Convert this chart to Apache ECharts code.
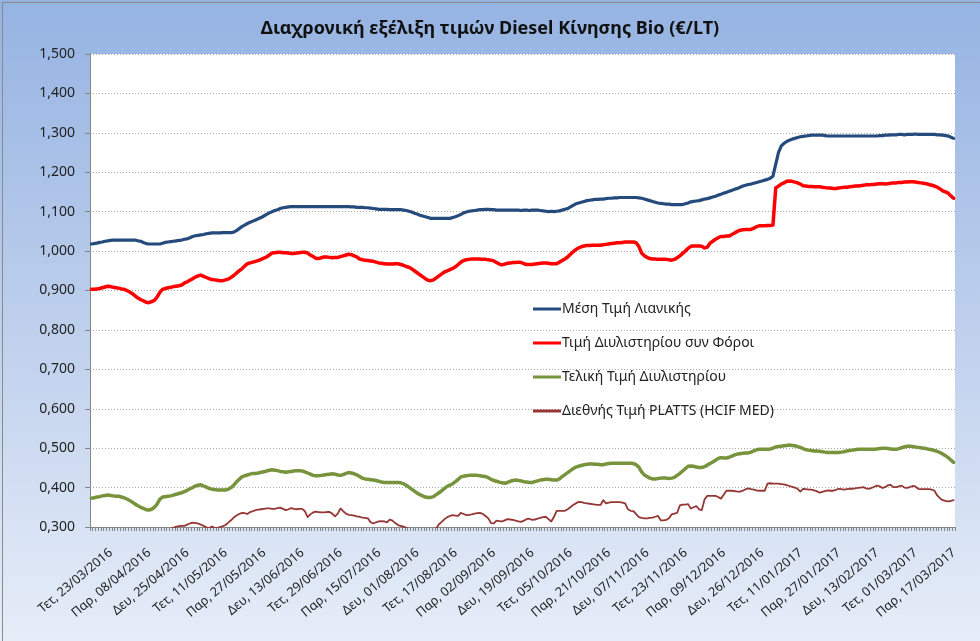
<!DOCTYPE html>
<html>
<head>
<meta charset="utf-8">
<script src="https://cdn.jsdelivr.net/npm/echarts@6/dist/echarts.min.js"></script>
<style>
html,body{margin:0;padding:0;background:#fff;}
#chart{width:980px;height:641px;}
</style>
</head>
<body>
<div id="chart"></div>
<script>
// ---- data ----
const titleText = 'Διαχρονική εξέλιξη τιμών Diesel Κίνησης Bio (€/LT)';
const seriesNames = ['Μέση Τιμή Λιανικής', 'Τιμή Διυλιστηρίου συν Φόροι', 'Τελική Τιμή Διυλιστηρίου', 'Διεθνής Τιμή PLATTS (HCIF MED)'];
const dayNames = ['Κυρ', 'Δευ', 'Τρι', 'Τετ', 'Πεμ', 'Παρ', 'Σαβ'];
const startDate = [2016, 3, 23]; // first trading day (Mon-Sat series)
const pointCount = 316;

const retail = [
1.018,1.019,1.020,1.022,1.023,1.025,1.026,1.027,1.028,1.028,1.028,1.028,1.028,1.028,
1.028,1.028,1.028,1.026,1.025,1.022,1.019,1.018,1.018,1.018,1.018,1.018,1.020,1.022,
1.023,1.024,1.025,1.026,1.027,1.028,1.030,1.031,1.034,1.037,1.039,1.040,1.041,1.042,
1.044,1.045,1.046,1.046,1.046,1.046,1.047,1.047,1.047,1.047,1.048,1.052,1.057,1.062,
1.066,1.070,1.073,1.076,1.079,1.082,1.085,1.089,1.093,1.097,1.100,1.103,1.105,1.108,
1.110,1.111,1.112,1.113,1.113,1.113,1.113,1.113,1.113,1.113,1.113,1.113,1.113,1.113,
1.113,1.113,1.113,1.113,1.113,1.113,1.113,1.113,1.113,1.113,1.113,1.112,1.112,1.111,
1.111,1.111,1.110,1.110,1.109,1.108,1.107,1.106,1.106,1.106,1.106,1.105,1.105,1.105,
1.105,1.105,1.104,1.103,1.101,1.099,1.096,1.094,1.091,1.089,1.087,1.085,1.083,1.083,
1.083,1.083,1.083,1.083,1.083,1.083,1.085,1.087,1.090,1.093,1.097,1.099,1.101,1.102,
1.103,1.104,1.105,1.105,1.106,1.106,1.105,1.105,1.104,1.104,1.104,1.104,1.104,1.104,
1.104,1.104,1.104,1.103,1.104,1.104,1.103,1.104,1.104,1.104,1.103,1.102,1.101,1.100,
1.101,1.100,1.101,1.102,1.104,1.106,1.108,1.112,1.116,1.120,1.122,1.124,1.126,1.128,
1.129,1.130,1.131,1.131,1.132,1.132,1.133,1.134,1.134,1.135,1.135,1.136,1.136,1.136,
1.136,1.136,1.136,1.136,1.135,1.134,1.132,1.130,1.128,1.126,1.124,1.122,1.121,1.120,
1.119,1.119,1.118,1.118,1.118,1.118,1.118,1.120,1.122,1.125,1.126,1.127,1.128,1.130,
1.132,1.133,1.135,1.137,1.139,1.142,1.144,1.147,1.149,1.152,1.154,1.157,1.159,1.162,
1.165,1.167,1.169,1.170,1.172,1.174,1.176,1.178,1.180,1.182,1.185,1.190,1.220,1.250,
1.266,1.273,1.278,1.281,1.284,1.286,1.288,1.290,1.291,1.292,1.293,1.294,1.294,1.294,
1.294,1.294,1.293,1.292,1.292,1.292,1.292,1.292,1.292,1.292,1.292,1.292,1.292,1.292,
1.292,1.292,1.292,1.292,1.292,1.292,1.292,1.292,1.293,1.293,1.294,1.294,1.295,1.295,
1.295,1.296,1.296,1.295,1.296,1.296,1.296,1.297,1.296,1.296,1.296,1.296,1.296,1.296,
1.296,1.295,1.295,1.294,1.293,1.292,1.289,1.286
];

const refineryTax = [
0.903,0.903,0.904,0.905,0.907,0.909,0.911,0.910,0.908,0.907,0.906,0.904,0.903,0.900,
0.896,0.892,0.886,0.881,0.877,0.874,0.870,0.869,0.872,0.875,0.883,0.895,0.903,0.905,
0.907,0.908,0.910,0.911,0.912,0.914,0.919,0.922,0.926,0.930,0.934,0.937,0.939,0.936,
0.933,0.930,0.928,0.927,0.926,0.925,0.925,0.927,0.929,0.933,0.938,0.944,0.950,0.955,
0.962,0.968,0.970,0.972,0.974,0.976,0.979,0.982,0.985,0.990,0.995,0.996,0.997,0.997,
0.996,0.996,0.995,0.994,0.994,0.995,0.996,0.997,0.997,0.995,0.990,0.986,0.982,0.981,
0.983,0.985,0.985,0.984,0.983,0.984,0.984,0.986,0.988,0.990,0.992,0.991,0.988,0.985,
0.980,0.978,0.977,0.976,0.975,0.974,0.972,0.970,0.969,0.968,0.967,0.967,0.967,0.968,
0.968,0.966,0.964,0.961,0.959,0.955,0.950,0.945,0.940,0.935,0.930,0.926,0.925,0.927,
0.932,0.937,0.942,0.947,0.950,0.953,0.956,0.960,0.966,0.972,0.976,0.978,0.979,0.980,
0.980,0.980,0.980,0.979,0.979,0.978,0.977,0.975,0.971,0.967,0.965,0.967,0.969,0.970,
0.971,0.971,0.972,0.971,0.968,0.966,0.966,0.966,0.967,0.968,0.969,0.970,0.970,0.969,
0.968,0.968,0.968,0.972,0.976,0.980,0.985,0.992,0.998,1.004,1.008,1.011,1.013,1.014,
1.014,1.015,1.015,1.015,1.015,1.016,1.017,1.018,1.019,1.020,1.021,1.021,1.022,1.023,
1.023,1.023,1.023,1.021,1.012,0.995,0.988,0.984,0.981,0.980,0.980,0.979,0.979,0.979,
0.979,0.978,0.977,0.979,0.983,0.988,0.994,1.000,1.007,1.012,1.013,1.013,1.013,1.012,
1.008,1.010,1.020,1.025,1.030,1.034,1.037,1.037,1.038,1.038,1.042,1.046,1.050,1.053,
1.054,1.055,1.055,1.055,1.058,1.062,1.064,1.064,1.064,1.065,1.065,1.066,1.160,1.165,
1.170,1.173,1.177,1.178,1.177,1.175,1.173,1.170,1.166,1.165,1.164,1.164,1.163,1.163,
1.163,1.162,1.161,1.160,1.160,1.159,1.159,1.160,1.161,1.162,1.162,1.163,1.164,1.165,
1.165,1.166,1.167,1.168,1.168,1.169,1.169,1.170,1.171,1.171,1.170,1.171,1.172,1.173,
1.173,1.174,1.174,1.175,1.175,1.176,1.176,1.175,1.174,1.173,1.172,1.171,1.169,1.167,
1.165,1.162,1.158,1.153,1.150,1.147,1.140,1.134
];

const refineryFinal = [
0.373,0.374,0.376,0.377,0.379,0.380,0.381,0.380,0.379,0.378,0.378,0.376,0.374,0.371,
0.367,0.363,0.358,0.354,0.350,0.347,0.344,0.343,0.345,0.350,0.358,0.370,0.376,0.377,
0.378,0.379,0.381,0.383,0.385,0.387,0.390,0.393,0.397,0.400,0.404,0.406,0.407,0.404,
0.401,0.398,0.396,0.395,0.394,0.394,0.394,0.394,0.396,0.400,0.406,0.414,0.421,0.427,
0.430,0.432,0.434,0.436,0.436,0.437,0.439,0.440,0.442,0.444,0.445,0.444,0.443,0.441,
0.440,0.439,0.440,0.441,0.442,0.443,0.443,0.442,0.440,0.437,0.434,0.431,0.430,0.430,
0.431,0.432,0.433,0.434,0.435,0.434,0.432,0.431,0.433,0.436,0.438,0.437,0.435,0.432,
0.428,0.424,0.422,0.421,0.420,0.419,0.418,0.416,0.414,0.413,0.413,0.413,0.413,0.413,
0.413,0.412,0.410,0.406,0.401,0.396,0.391,0.386,0.382,0.379,0.376,0.375,0.375,0.377,
0.382,0.387,0.392,0.398,0.403,0.406,0.410,0.415,0.421,0.427,0.429,0.430,0.431,0.431,
0.431,0.431,0.430,0.429,0.428,0.425,0.421,0.418,0.416,0.414,0.412,0.411,0.413,0.416,
0.418,0.419,0.418,0.417,0.415,0.414,0.413,0.413,0.415,0.417,0.419,0.420,0.421,0.421,
0.420,0.419,0.419,0.422,0.428,0.433,0.438,0.443,0.448,0.452,0.454,0.456,0.458,0.459,
0.460,0.460,0.459,0.459,0.458,0.458,0.460,0.461,0.462,0.462,0.462,0.462,0.462,0.462,
0.462,0.462,0.461,0.458,0.452,0.440,0.432,0.428,0.424,0.422,0.422,0.423,0.424,0.424,
0.424,0.423,0.424,0.426,0.431,0.436,0.442,0.448,0.454,0.455,0.454,0.452,0.451,0.451,
0.453,0.457,0.461,0.465,0.469,0.474,0.476,0.475,0.475,0.477,0.480,0.483,0.485,0.486,
0.487,0.488,0.488,0.490,0.493,0.496,0.497,0.497,0.497,0.497,0.498,0.500,0.503,0.504,
0.505,0.506,0.507,0.508,0.507,0.506,0.504,0.502,0.499,0.496,0.495,0.494,0.493,0.493,
0.492,0.491,0.490,0.489,0.489,0.489,0.489,0.489,0.490,0.491,0.493,0.494,0.495,0.496,
0.497,0.497,0.497,0.497,0.497,0.497,0.497,0.498,0.499,0.500,0.500,0.499,0.498,0.497,
0.497,0.499,0.501,0.503,0.505,0.505,0.504,0.503,0.502,0.501,0.500,0.499,0.497,0.496,
0.494,0.492,0.489,0.485,0.481,0.476,0.470,0.464
];

const platts = [
0.280,0.282,0.284,0.285,0.286,0.287,0.287,0.286,0.285,0.285,0.284,0.283,0.280,0.276,
0.272,0.268,0.264,0.260,0.256,0.253,0.251,0.250,0.255,0.262,0.270,0.278,0.284,0.290,
0.293,0.296,0.298,0.301,0.302,0.303,0.303,0.306,0.309,0.311,0.310,0.309,0.306,0.303,
0.299,0.297,0.301,0.298,0.297,0.300,0.302,0.305,0.311,0.317,0.324,0.329,0.333,0.336,
0.335,0.333,0.338,0.340,0.343,0.344,0.345,0.346,0.347,0.347,0.346,0.346,0.348,0.349,
0.346,0.343,0.345,0.348,0.346,0.345,0.346,0.346,0.340,0.325,0.332,0.337,0.339,0.338,
0.337,0.337,0.338,0.338,0.334,0.327,0.334,0.347,0.340,0.334,0.331,0.330,0.329,0.327,
0.326,0.324,0.323,0.322,0.312,0.309,0.312,0.314,0.315,0.314,0.312,0.319,0.316,0.310,
0.305,0.303,0.301,0.298,0.296,0.295,0.293,0.292,0.291,0.290,0.290,0.291,0.292,0.294,
0.297,0.307,0.313,0.320,0.325,0.328,0.330,0.329,0.328,0.336,0.333,0.330,0.331,0.332,
0.334,0.335,0.336,0.333,0.328,0.322,0.310,0.309,0.316,0.315,0.314,0.317,0.320,0.319,
0.318,0.316,0.314,0.313,0.316,0.320,0.321,0.318,0.319,0.321,0.323,0.325,0.326,0.320,
0.314,0.326,0.341,0.341,0.341,0.341,0.345,0.350,0.356,0.360,0.364,0.363,0.361,0.360,
0.359,0.358,0.357,0.356,0.356,0.368,0.360,0.362,0.363,0.363,0.363,0.363,0.362,0.360,
0.345,0.341,0.340,0.333,0.325,0.323,0.322,0.322,0.323,0.324,0.326,0.328,0.317,0.317,
0.318,0.322,0.332,0.334,0.336,0.355,0.357,0.357,0.358,0.347,0.350,0.353,0.345,0.343,
0.370,0.379,0.379,0.379,0.379,0.376,0.372,0.382,0.392,0.392,0.392,0.391,0.390,0.390,
0.392,0.396,0.398,0.396,0.395,0.393,0.392,0.392,0.392,0.410,0.411,0.410,0.410,0.410,
0.409,0.408,0.406,0.404,0.402,0.400,0.397,0.390,0.397,0.396,0.395,0.395,0.393,0.391,
0.387,0.389,0.391,0.393,0.392,0.392,0.394,0.397,0.396,0.395,0.396,0.397,0.397,0.398,
0.399,0.400,0.401,0.398,0.397,0.399,0.402,0.405,0.403,0.399,0.401,0.406,0.407,0.401,
0.401,0.403,0.405,0.400,0.399,0.401,0.404,0.403,0.397,0.396,0.396,0.396,0.396,0.395,
0.392,0.380,0.373,0.368,0.366,0.365,0.366,0.368
];

// ---- categories: Mon-Sat trading days ----
const categories = [];
(function () {
  const d = new Date(startDate[0], startDate[1] - 1, startDate[2]);
  while (categories.length < pointCount) {
    if (d.getDay() !== 0) {
      const dd = String(d.getDate()).padStart(2, '0');
      const mm = String(d.getMonth() + 1).padStart(2, '0');
      categories.push(dayNames[d.getDay()] + ', ' + dd + '/' + mm + '/' + d.getFullYear());
    }
    d.setDate(d.getDate() + 1);
  }
})();

const colors = ['#254a7c', '#ff0000', '#77933c', '#953735'];
const widths = [3.2, 3.5, 3.5, 1.8];
const values = [retail, refineryTax, refineryFinal, platts];

const chart = echarts.init(document.getElementById('chart'), null, { renderer: 'canvas' });
const FONT = 'Noto Sans';

chart.setOption({
  animation: false,
  backgroundColor: {
    type: 'linear', x: 0, y: 0, x2: 0, y2: 1,
    colorStops: [
      { offset: 0, color: '#95b3e2' },
      { offset: 0.45, color: '#b9cceb' },
      { offset: 1, color: '#e6edf8' }
    ]
  },
  graphic: [{
    type: 'rect', left: 0, top: 0, z: 100, silent: true,
    shape: { width: 979, height: 640 },
    style: { fill: 'none', stroke: '#8a8a8a', lineWidth: 1 }
  }],
  title: {
    text: titleText, left: 'center', top: 15,
    textStyle: { fontFamily: FONT, fontWeight: 'bold', fontSize: 18, color: '#111' }
  },
  legend: {
    orient: 'vertical', left: 528, top: 297, itemGap: 20,
    itemWidth: 28, itemHeight: 3, icon: 'rect',
    textStyle: { fontFamily: FONT, fontSize: 14, color: '#222', padding: [0, 0, 0, -4] },
    data: seriesNames
  },
  grid: {
    left: 90, top: 54, right: 25, bottom: 114,
    show: true, backgroundColor: '#ffffff', borderWidth: 0
  },
  xAxis: {
    type: 'category', data: categories, boundaryGap: true,
    axisLine: { lineStyle: { color: '#868686', width: 1 } },
    axisTick: { show: true, interval: 0, length: 4, lineStyle: { color: '#868686' } },
    axisLabel: {
      interval: 13, rotate: 40, margin: 32,
      align: 'right', verticalAlign: 'top',
      fontFamily: FONT, fontSize: 12.7, color: '#222',
      padding: [0, -20, 0, 0]
    },
    splitLine: { show: false }
  },
  yAxis: {
    type: 'value', min: 0.3, max: 1.5, interval: 0.1,
    axisLine: { show: true, lineStyle: { color: '#868686', width: 1 } },
    axisTick: { show: true, length: 5, lineStyle: { color: '#868686' } },
    axisLabel: {
      margin: 15, fontFamily: FONT, fontSize: 14, color: '#222',
      formatter: v => v.toFixed(3).replace('.', ',')
    },
    splitLine: { show: true, lineStyle: { color: '#a6a6a6', type: [1, 2], width: 1 } }
  },
  series: seriesNames.map((name, i) => ({
    name, type: 'line', data: values[i], symbol: 'none', clip: true,
    color: colors[i],
    lineStyle: { color: colors[i], width: widths[i], join: 'round', cap: 'round' },
    z: 10 - i
  }))
});
</script>
</body>
</html>
